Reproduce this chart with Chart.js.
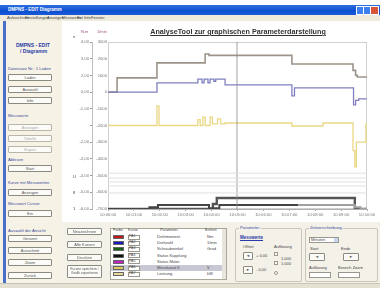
<!DOCTYPE html>
<html lang="de">
<head>
<meta charset="UTF-8" />
<title>AnalyseTool</title>
<style>
  html, body { margin: 0; padding: 0; }
  body {
    width: 380px; height: 288px; overflow: hidden; position: relative;
    background: #fff; font-family: 'Liberation Sans', Arial, sans-serif;
  }
  .abs { position: absolute; }
  .t { position: absolute; font-size: 4.5px; color: #444; white-space: nowrap; line-height: 1; }
  .btn {
    position: absolute; box-sizing: border-box; background: #fbfbf8;
    border: 1px solid #8a8a80; border-radius: 1px; font-size: 4px; color: #555;
    text-align: center; line-height: 1.1; padding-top: 1px; overflow: hidden;
  }
  .btn.off { color: #aaa; border-color: #b8b6a8; }
  .lbl { position: absolute; font-size: 4.2px; color: #3a4a9a; white-space: nowrap; }
  #titlebar { left: 0; top: 5px; width: 380px; height: 10px; background: linear-gradient(#2d6fe0, #0b4fd0 60%, #1a5ad8); }
  #menubar { left: 0; top: 15px; width: 380px; height: 6px; background: #eeebdc; }
  #leftpanel { left: 0; top: 21px; width: 62px; height: 262px; background: #f6f3e6; }
  #strip { left: 3px; top: 21px; width: 3px; height: 262px; background: #4a6fc8; }
  #bottompanel { left: 62px; top: 222px; width: 318px; height: 61px; background: #f3f1e8; }
  #status { left: 0; top: 283px; width: 380px; height: 5px; background: #e4e1d2; border-top: 1px solid #c8c5b5; }
  #chartbox { left: 62px; top: 20px; width: 318px; height: 200px; }
  #title {
    left: 62px; width: 352px; top: 28px; text-align: center; font-size: 7.2px; font-weight: bold;
    color: #333; text-decoration: underline;
  }
  fieldset.grp {
    position: absolute; margin: 0; padding: 0; box-sizing: border-box;
    border: 1px solid #c9c6b8; border-radius: 2px;
  }
  fieldset.grp legend { font-size: 4.2px; color: #3a4a9a; padding: 0 1px; margin-left: 3px; line-height: 1; }
  #tbl { left: 110px; top: 228px; width: 117px; height: 52px; background: #fff; border: 1px solid #a9a79a; box-sizing: border-box; }
  .sw { position: absolute; width: 11px; height: 4px; border: 0.5px solid #666; box-sizing: border-box; }
  .box { position: absolute; background: #fff; border: 1px solid #9a988c; box-sizing: border-box; }
</style>
</head>
<body>
  <div class="abs" id="titlebar"></div>
  <div class="t" style="left:8px;top:8px;color:#fff;font-weight:bold;">DMPNS - EDIT Diagramm</div>
  <div class="abs" style="left:356px;top:6px;width:6px;height:7px;background:#3d7ef0;border:0.5px solid #fff;"></div>
  <div class="abs" style="left:363px;top:6px;width:6px;height:7px;background:#3d7ef0;border:0.5px solid #fff;"></div>
  <div class="abs" style="left:370px;top:6px;width:7px;height:7px;background:#d8553a;border:0.5px solid #fff;"></div>

  <div class="abs" id="menubar"></div>
  <div class="t" style="left:7px;top:16px;font-size:4px;">Aufzeichnen</div>
  <div class="t" style="left:25px;top:16px;font-size:4px;">Einstellungen</div>
  <div class="t" style="left:47px;top:16px;font-size:4px;">Anzeigen</div>
  <div class="t" style="left:62px;top:16px;font-size:4px;">Messwerte</div>
  <div class="t" style="left:77px;top:16px;font-size:4px;">Ext</div>
  <div class="t" style="left:84px;top:16px;font-size:4px;">Info</div>
  <div class="t" style="left:91px;top:16px;font-size:4px;">Fenster</div>

  <div class="abs" id="leftpanel"></div>
  <div class="abs" id="strip"></div>
  <div class="lbl" style="left:16px;top:42px;font-size:5px;font-weight:bold;color:#2a3aa8;">DMPNS - EDIT</div>
  <div class="lbl" style="left:20px;top:48px;font-size:5px;font-weight:bold;color:#2a3aa8;">/ Diagramm</div>
  <div class="lbl" style="left:8px;top:66px;">Datensatz Nr.: 1 Laden</div>
  <div class="btn" style="left:8px;top:74px;width:44px;height:7px;">Laden</div>
  <div class="btn" style="left:8px;top:86px;width:44px;height:7px;">Auswahl</div>
  <div class="btn" style="left:8px;top:97px;width:44px;height:7px;">Info</div>
  <div class="lbl" style="left:8px;top:113px;">Messwerte</div>
  <div class="btn off" style="left:8px;top:124px;width:44px;height:7px;">Anzeigen</div>
  <div class="btn off" style="left:8px;top:135px;width:44px;height:7px;">Tabelle</div>
  <div class="btn off" style="left:8px;top:146px;width:44px;height:7px;">Export</div>
  <div class="lbl" style="left:8px;top:157px;">Ablesen</div>
  <div class="btn" style="left:8px;top:165px;width:44px;height:7px;">Start</div>
  <div class="lbl" style="left:8px;top:180px;">Kurve mit Messwerten</div>
  <div class="btn" style="left:8px;top:189px;width:44px;height:7px;">Anzeigen</div>
  <div class="lbl" style="left:8px;top:201px;">Messwert Cursor</div>
  <div class="btn" style="left:8px;top:210px;width:44px;height:7px;">Ein</div>
  <div class="lbl" style="left:8px;top:228px;">Auswahl der Ansicht</div>
  <div class="btn" style="left:8px;top:235px;width:44px;height:7px;">Gesamt</div>
  <div class="btn" style="left:8px;top:247px;width:44px;height:7px;">Ausschnitt</div>
  <div class="btn" style="left:8px;top:259px;width:44px;height:7px;">Zoom</div>
  <div class="btn" style="left:8px;top:272px;width:44px;height:7px;">Zurück</div>

  <div class="abs" id="bottompanel"></div>
  <div class="abs" id="chartbox"><canvas id="chart" width="318" height="200"></canvas></div>
  <div class="t" id="title">AnalyseTool zur graphischen Parameterdarstellung</div>

  <div class="t" style="left:81px;top:30px;font-size:4px;color:#a05080;">N.m</div>
  <div class="t" style="left:97px;top:30px;font-size:4px;color:#a05080;">1/min</div>
  <div class="t" style="left:73px;top:35px;font-size:4px;">n</div>
  <div class="t" style="left:73px;top:175px;font-size:4px;">U</div>
  <div class="t" style="left:73px;top:191px;font-size:4px;">8</div>
  <div class="t" style="left:73px;top:207px;font-size:4px;">1</div>

  <!-- Buttons -->
  <div class="btn" style="left:67px;top:228px;width:35px;height:7px;">Neuzeichnen</div>
  <div class="btn" style="left:67px;top:241px;width:35px;height:7px;">Alle Kurven</div>
  <div class="btn" style="left:67px;top:254px;width:35px;height:7px;">Drucken</div>
  <div class="btn" style="left:67px;top:265px;width:35px;height:13px;font-size:3.4px;padding-top:2px;">Kurven speichern /<br>Grafik exportieren</div>

  <!-- Kurventabelle -->
  <div class="abs" id="tbl"></div>
  <div id="rows"></div>
  <div class="abs" style="left:222px;top:229px;width:4px;height:50px;background:#e8e6dc;"></div>

  <!-- Parameter -->
  <fieldset class="grp" style="left:235px;top:226px;width:67px;height:56px;"><legend>Parameter</legend></fieldset>
  <div class="t" style="left:240px;top:236px;font-weight:bold;color:#2a3aa8;text-decoration:underline;">Messwerte</div>
  <div class="t" style="left:243px;top:245px;font-size:4px;">Offset</div>
  <div class="t" style="left:274px;top:245px;font-size:4px;">Auflösung</div>
  <div class="btn" style="left:243px;top:252px;width:10px;height:8px;">&#9668;</div>
  <div class="t" style="left:256px;top:254px;font-size:4px;">+ 0,00</div>
  <div class="btn" style="left:243px;top:266px;width:10px;height:8px;">&#9658;</div>
  <div class="t" style="left:256px;top:268px;font-size:4px;">- 0,00</div>
  <div class="box" style="left:274px;top:252px;width:4px;height:4px;"></div>
  <div class="box" style="left:274px;top:261px;width:4px;height:4px;"></div>
  <div class="box" style="left:274px;top:271px;width:4px;height:4px;border-radius:2px;"></div>
  <div class="t" style="left:281px;top:257px;font-size:4px;">1,000</div>
  <div class="t" style="left:281px;top:262px;font-size:4px;">1,000</div>

  <!-- Zeitachse -->
  <fieldset class="grp" style="left:305px;top:226px;width:73px;height:56px;"><legend>Zeitverschiebung</legend></fieldset>
  <div class="box" style="left:309px;top:237px;width:30px;height:6px;"></div>
  <div class="t" style="left:311px;top:238px;font-size:4px;">Minuten</div>
  <div class="abs" style="left:334px;top:238px;width:4px;height:4px;background:#c8d4f0;"></div>
  <div class="t" style="left:310px;top:247px;font-size:4px;">Start</div>
  <div class="t" style="left:341px;top:247px;font-size:4px;">Ende</div>
  <div class="btn" style="left:309px;top:253px;width:16px;height:8px;">&#9668;</div>
  <div class="btn" style="left:343px;top:253px;width:16px;height:8px;">&#9658;</div>
  <div class="t" style="left:309px;top:266px;font-size:4px;">Auflösung</div>
  <div class="t" style="left:338px;top:266px;font-size:4px;">Bereich Zoom</div>
  <div class="box" style="left:309px;top:272px;width:22px;height:6px;"></div>
  <div class="box" style="left:338px;top:272px;width:22px;height:6px;"></div>

  <div class="abs" id="status"></div>

  <script src="https://cdn.jsdelivr.net/npm/chart.js"></script>
  <script>
    // Kurventabelle (Legende)
    const kurvenFarben = ['#c01818', '#1818c0', '#146014', '#101010', '#c020c0', '#e0c860', '#e8d898'];
    const kurvenNamen = ['PA1', 'PA2', 'PA3', 'PA4', 'PA5', 'PA6', 'PA7'];
    const kurvenParameter = ['Drehmoment', 'Drehzahl', 'Schraubwinkel', 'Status Kupplung', 'Status Motor', 'Messkanal 6', 'Leistung'];
    const kurvenEinheit = ['Nm', '1/min', 'Grad', '', '', 'V', 'kW'];

    // Zeitachse und Y-Achsen
    const xLabels = ['10:00:00', '10:01:00', '10:02:00', '10:03:00', '10:04:00', '10:05:00',
                     '10:06:00', '10:07:00', '10:08:00', '10:09:00', '10:10:00'];
    const yLabelsA = ['3000', '2000', '1000', '0', '-1000', '-2000', '-3000', '-4000', '-5000', '-6000', '-7000'];
    const yLabelsB = ['4,00', '3,00', '2,00', '0,00', '-1,00', '', '-2,00', '-3,00', '-4,00', '-5,00', '-6,00'];

    // Messwerte (Zeit in %, Werte in N.m-Skala)
    const tOben = [0, 3.5, 18.9, 37.5, 39.0, 71.0, 94.6, 95.6, 96.3, 100];
    const vOben = [0, 850, 1750, 2280, 2200, 1680, 1300, 1000, 900, 900];

    const tBlau = [0, 18.9, 34.7, 36.3, 37.1, 38.6, 39.4, 40.9, 41.6, 45.2, 71.0, 72.0, 94.8, 95.6, 96.8, 100];
    const vBlau = [0, 550, 780, 550, 780, 550, 780, 650, 780, 430, -230, 250, -770, -500, -410, -410];

    const tGelb = [0, 18.9, 19.7, 34.7, 35.6, 36.6, 37.5, 39.4, 40.3, 42.3, 43.5, 45.2, 71.0, 83.0, 94.6, 95.3, 95.9, 97.0, 99.6, 100];
    const vGelb = [-2000, -830, -2000, -1650, -2000, -1500, -2000, -1500, -1900, -1600, -1900, -1850, -2030, -1850, -3500, -4480, -3000, -2990, -1900, -1900];

    const tDig1 = [0, 40.5, 42.0, 95.3, 100];
    const vDig1 = [-7000, -6700, -6340, -7000, -7000];
    const tDig2 = [0, 16.0, 19.3, 39.0, 43.0, 73.5, 95.3, 97.5, 100];
    const vDig2 = [-7000, -6900, -6760, -6950, -6760, -6760, -6900, -7000, -7000];

    const vGrau = [-4850, -5150, -5380, -5620, -6040];
    const tCursor = 49.8;

    // Tabellenzeilen erzeugen
    const rows = document.getElementById('rows');
    kurvenFarben.forEach((c, i) => {
      const y = 234 + i * 6.2;
      let h = '';
      if (i === 5) h += `<div class="abs" style="left:111px;top:${y}px;width:111px;height:6px;background:#c8c8d4;"></div>`;
      h += `<div class="sw" style="left:113px;top:${y + 1}px;background:${c};"></div>`;
      h += `<div class="box" style="left:128px;top:${y + 0.5}px;width:12px;height:5px;"></div>`;
      h += `<div class="t" style="left:129px;top:${y + 1}px;font-size:3.5px;">${kurvenNamen[i]}</div>`;
      h += `<div class="t" style="left:157px;top:${y + 1}px;font-size:4px;">${kurvenParameter[i]}</div>`;
      h += `<div class="t" style="left:207px;top:${y + 1}px;font-size:4px;">${kurvenEinheit[i]}</div>`;
      rows.insertAdjacentHTML('beforeend', h);
    });
    rows.insertAdjacentHTML('beforeend',
      '<div class="t" style="left:113px;top:229px;font-size:3.8px;">Farbe</div>' +
      '<div class="t" style="left:128px;top:229px;font-size:3.8px;">Kurve</div>' +
      '<div class="t" style="left:160px;top:229px;font-size:3.8px;">Parameter</div>' +
      '<div class="t" style="left:205px;top:229px;font-size:3.8px;">Einheit</div>');

    const pts = (ts, vs) => ts.map((t, i) => ({ x: t, y: vs[i] }));
    const line = (data, color, width, extra) => Object.assign({
      data, borderColor: color, borderWidth: width, pointRadius: 0, stepped: true, fill: false, yAxisID: 'yA'
    }, extra || {});

    const datasets = [];
    vGrau.forEach(v => datasets.push(line(pts([0, 100], [v, v]), '#e0e0e0', 1)));
    datasets.push(line(pts([tCursor, tCursor], [-7000, 3000]), '#8a8a8a', 0.8, { stepped: false }));
    datasets.push(line(pts(tDig2, vDig2), '#444', 2, {
      segment: { borderColor: ctx => ctx.p0.parsed.x >= 73.5 ? '#a0a0a0' : '#444' }
    }));
    datasets.push(line(pts(tDig1, vDig1), '#555', 2.4));
    datasets.push(line(pts(tGelb, vGelb), '#ead784', 1.3));
    datasets.push(line(pts(tBlau, vBlau), '#8080c0', 1.3));
    datasets.push(line(pts(tOben, vOben), '#9c948a', 1.6));

    new Chart(document.getElementById('chart').getContext('2d'), {
      type: 'line',
      data: { datasets },
      options: {
        responsive: false,
        animation: false,
        layout: { padding: { left: 14, right: 13, top: 22, bottom: 0 } },
        plugins: { legend: { display: false }, tooltip: { enabled: false } },
        scales: {
          x: {
            type: 'linear', min: 0, max: 100,
            afterFit: s => { s.height = 11; },
            afterBuildTicks: s => { s.ticks = xLabels.map((l, i) => ({ value: i * 10 })); },
            ticks: { callback: (v, i) => xLabels[i], font: { size: 4.2 }, color: '#777', padding: 1, maxRotation: 0, autoSkip: false },
            grid: { drawOnChartArea: false, tickLength: 2, color: '#aaa' },
            border: { color: '#b0b0b0' }
          },
          yA: {
            position: 'left', min: -7000, max: 3000,
            afterFit: s => { s.width = 16; },
            afterBuildTicks: s => { s.ticks = yLabelsA.map((l, i) => ({ value: 3000 - i * 1000 })); },
            ticks: { callback: (v, i) => yLabelsA[i], font: { size: 4.2 }, color: '#777', padding: 1, autoSkip: false },
            grid: { drawOnChartArea: false, drawTicks: false },
            border: { display: false }
          },
          yB: {
            position: 'left', min: -7000, max: 3000,
            afterFit: s => { s.width = 16; },
            afterBuildTicks: s => { s.ticks = yLabelsB.map((l, i) => ({ value: 3000 - i * 1000 })); },
            ticks: { callback: (v, i) => yLabelsB[i], font: { size: 4.2 }, color: '#777', padding: 1, autoSkip: false },
            grid: { drawOnChartArea: false, tickLength: 2, color: '#999' },
            border: { color: '#c0c0c0' }
          }
        }
      },
      plugins: [{
        id: 'rahmen',
        beforeDraw: c => {
          const a = c.chartArea, g = c.ctx;
          g.save();
          g.strokeStyle = '#d0d0d0';
          g.lineWidth = 1;
          g.strokeRect(a.left + 0.5, a.top + 0.5, a.width - 1, a.height - 1);
          g.restore();
        }
      }]
    });
  </script>
</body>
</html>
